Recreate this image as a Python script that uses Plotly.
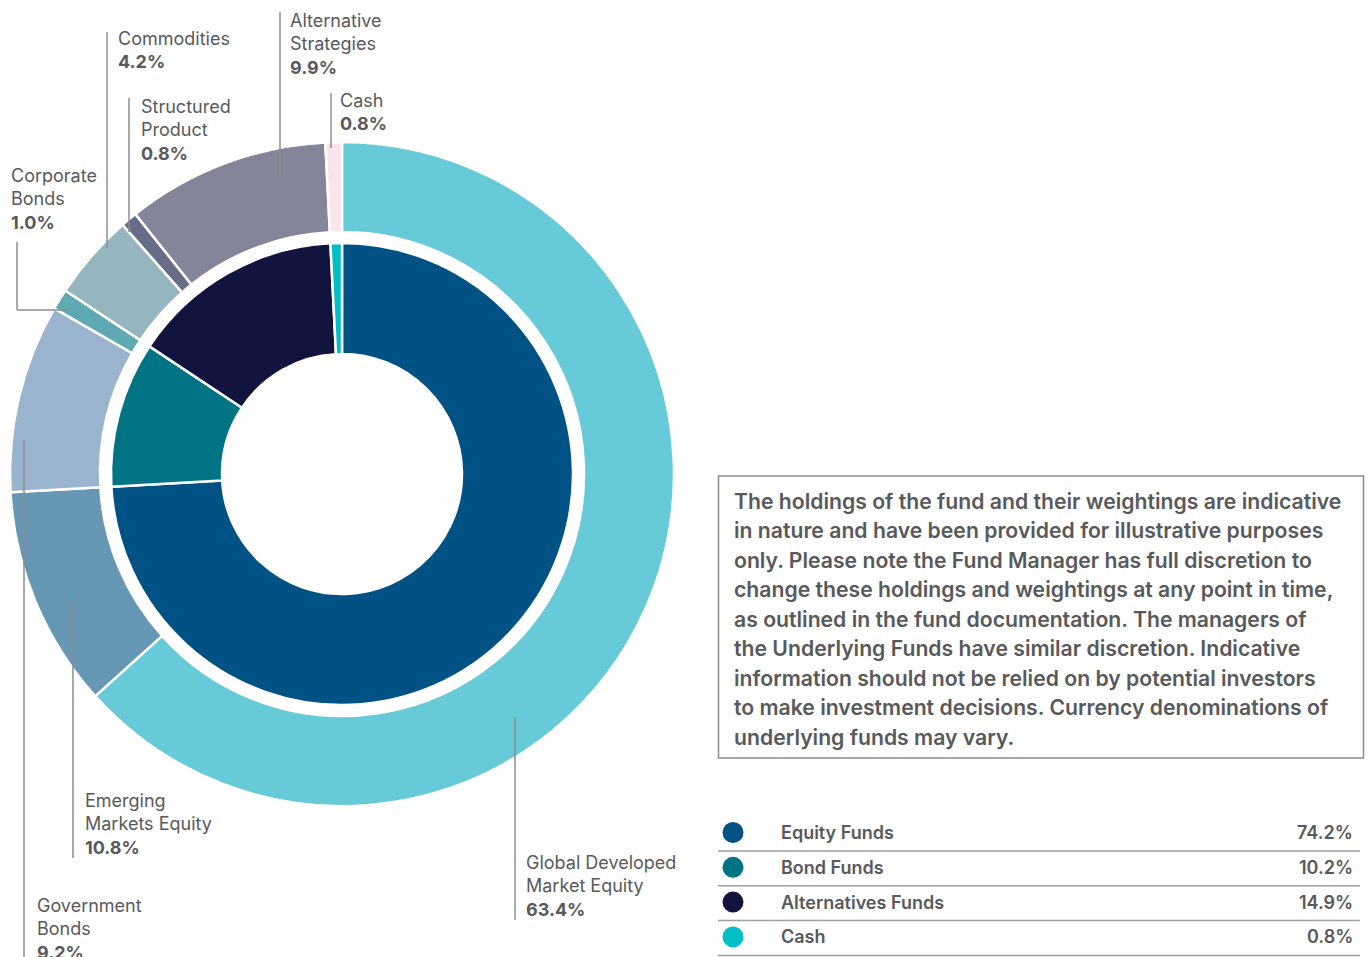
import plotly.graph_objects as go

# ---------------- data ----------------
outer_labels = ["Global Developed Market Equity", "Emerging Markets Equity", "Government Bonds",
                "Corporate Bonds", "Commodities", "Structured Product", "Alternative Strategies", "Cash"]
outer_values = [63.4, 10.8, 9.2, 1.0, 4.2, 0.8, 9.9, 0.8]
outer_colors = ["#67CAD9", "#6697B5", "#9AB4CD", "#5FA9B3", "#95B6BF", "#676C88", "#858599", "#FBE5EC"]

inner_labels = ["Equity Funds", "Bond Funds", "Alternatives Funds", "Cash"]
inner_values = [74.2, 10.2, 14.9, 0.8]
inner_colors = ["#005184", "#007484", "#11143E", "#00BEC5"]

note_lines = [
    "The holdings of the fund and their weightings are indicative",
    "in nature and have been provided for illustrative purposes",
    "only. Please note the Fund Manager has full discretion to",
    "change these holdings and weightings at any point in time,",
    "as outlined in the fund documentation. The managers of",
    "the Underlying Funds have similar discretion. Indicative",
    "information should not be relied on by potential investors",
    "to make investment decisions. Currency denominations of",
    "underlying funds may vary.",
]

# ---------------- layout constants (pixels) ----------------
W, H = 1370, 957
CX, CY = 342, 474
R_OUT, R_OUT_IN = 332, 242
R_IN, R_IN_IN = 231, 120
FONT = "Inter"
TXT = "#58595B"
LINE = "#8C8C8C"

def dom(r):
    return dict(x=[(CX - r) / W, (CX + r) / W], y=[(H - CY - r) / H, (H - CY + r) / H])

fig = go.Figure()
fig.add_trace(go.Pie(labels=outer_labels, values=outer_values, hole=R_OUT_IN / R_OUT,
                     domain=dom(R_OUT), sort=False, direction="clockwise", rotation=0,
                     marker=dict(colors=outer_colors, line=dict(color="white", width=2.5)),
                     textinfo="none", hoverinfo="label+percent", showlegend=False))
fig.add_trace(go.Pie(labels=inner_labels, values=inner_values, hole=R_IN_IN / R_IN,
                     domain=dom(R_IN), sort=False, direction="clockwise", rotation=0,
                     marker=dict(colors=inner_colors, line=dict(color="white", width=2.5)),
                     textinfo="none", hoverinfo="label+percent", showlegend=False))

annotations = []
shapes = []

def text(x, y, s, size=18, weight=400, anchor="left", color=TXT):
    annotations.append(dict(x=x, y=y, xref="x", yref="y", text=s, showarrow=False,
                            xanchor=anchor, yanchor="middle", align=anchor, borderpad=0,
                            font=dict(family=FONT, size=size, color=color, weight=weight)))

def seg(x0, y0, x1, y1, color=LINE, width=1.5):
    shapes.append(dict(type="line", xref="x", yref="y", x0=x0, y0=y0, x1=x1, y1=y1,
                       line=dict(color=color, width=width)))

# label placements: (name-lines, index into outer_values, text x, first line y, leader line path)
label_specs = [
    (["Alternative", "Strategies"], 6, 289, 20, [(280, 12), (280, 175)]),
    (["Commodities"], 4, 117, 38, [(107, 32), (107, 248)]),
    (["Structured", "Product"], 5, 140, 106, [(129, 98), (129, 232)]),
    (["Cash"], 7, 339, 100, [(331, 93), (331, 148)]),
    (["Corporate", "Bonds"], 3, 10, 175, [(17, 242), (17, 310), (66, 310)]),
    (["Emerging", "Markets Equity"], 1, 84, 800, [(73, 605), (73, 858)]),
    (["Government", "Bonds"], 2, 36, 905, [(24, 440), (24, 960)]),
    (["Global Developed", "Market Equity"], 0, 525, 862, [(515, 717), (515, 920)]),
]
for lines, idx, tx, ty, path in label_specs:
    for i, ln in enumerate(lines):
        text(tx, ty + i * 23.7, ln)
    text(tx, ty + len(lines) * 23.7, f"{outer_values[idx]:.1f}%", weight=700)
    for (x0, y0), (x1, y1) in zip(path[:-1], path[1:]):
        seg(x0, y0, x1, y1)

# disclaimer box
shapes.append(dict(type="rect", xref="x", yref="y", x0=718.5, y0=476, x1=1363.5, y1=758,
                   line=dict(color="#8C8C8C", width=1.5), fillcolor="rgba(0,0,0,0)"))
for i, ln in enumerate(note_lines):
    text(733, 500.5 + i * 29.5, ln, size=21.2, weight=600)

# legend table
for i, (lab, val, col) in enumerate(zip(inner_labels, inner_values, inner_colors)):
    y = 832.5 + i * 34.8
    shapes.append(dict(type="circle", xref="x", yref="y", x0=722.5, x1=743.5, y0=y - 10.5, y1=y + 10.5,
                       fillcolor=col, line=dict(width=0)))
    text(780, y, lab, size=18, weight=600)
    text(1354, y, f"{val:.1f}%", size=18, weight=600, anchor="right")
    seg(718, y + 18.5, 1360, y + 18.5, color="#A0A0A0", width=1.5)

fig.update_layout(
    width=W, height=H, margin=dict(l=0, r=0, t=0, b=0),
    paper_bgcolor="white", plot_bgcolor="rgba(0,0,0,0)",
    xaxis=dict(range=[0, W], domain=[0, 1], visible=False, fixedrange=True),
    yaxis=dict(range=[H, 0], domain=[0, 1], visible=False, fixedrange=True),
    annotations=annotations, shapes=shapes, showlegend=False,
)
fig.write_html("out.html")
